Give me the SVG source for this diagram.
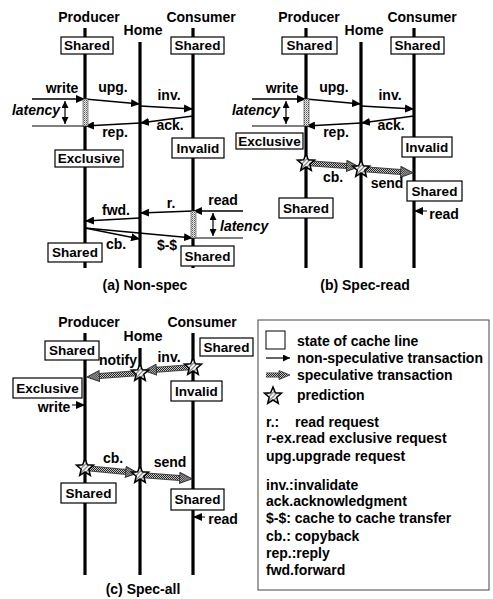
<svg xmlns="http://www.w3.org/2000/svg" xmlns:xlink="http://www.w3.org/1999/xlink" width="493" height="599" viewBox="0 0 493 599">
<style>
text{font-family:"Liberation Sans",Arial,sans-serif;font-weight:bold;font-size:14px;fill:#000}
.m{text-anchor:middle}
.it{font-style:italic}
.st{font-size:13.5px}
.life{stroke:#000;stroke-width:3.2;fill:none}
.box{fill:#fff;stroke:#000;stroke-width:1.2}
.ar{stroke:#000;stroke-width:1.5;fill:none;marker-end:url(#ah)}
.thin{stroke:#000;stroke-width:1;fill:none}
.lat{stroke:#000;stroke-width:1.2;fill:none;marker-start:url(#ah2);marker-end:url(#ah2)}
.hat{fill:url(#dots);stroke:#444;stroke-width:0.6}
.specO{stroke:#444;stroke-width:6;fill:none}
.specI{stroke:url(#chk);stroke-width:4;fill:none;marker-end:url(#sh)}
.star{fill:url(#sdiag);stroke:#000;stroke-width:1.5;stroke-linejoin:miter}
</style>
<defs>
<pattern id="chk" width="2" height="2" patternUnits="userSpaceOnUse"><rect width="2" height="2" fill="#c8c8c8"/><rect width="1" height="1" fill="#222"/><rect x="1" y="1" width="1" height="1" fill="#222"/></pattern>
<pattern id="dots" width="2" height="2" patternUnits="userSpaceOnUse"><rect width="2" height="2" fill="#eee"/><rect width="1" height="1" fill="#555"/><rect x="1" y="1" width="1" height="1" fill="#999"/></pattern>
<pattern id="sdiag" width="3" height="3" patternUnits="userSpaceOnUse" patternTransform="rotate(45)"><rect width="3" height="3" fill="#fff"/><rect width="1.2" height="3" fill="#777"/></pattern>
<marker id="ah" markerUnits="userSpaceOnUse" markerWidth="9" markerHeight="8" refX="9" refY="4" orient="auto"><path d="M0,0 L9,4 L0,8 z" fill="#000"/></marker>
<marker id="ah2" markerUnits="userSpaceOnUse" markerWidth="7" markerHeight="7" refX="7" refY="3.5" orient="auto-start-reverse"><path d="M0,0 L7,3.5 L0,7 z" fill="#000"/></marker>
<marker id="sh" markerUnits="userSpaceOnUse" markerWidth="14" markerHeight="12" refX="4" refY="6" orient="auto"><path d="M0.6,0.6 L13,6 L0.6,11.4 z" fill="url(#chk)" stroke="#333" stroke-width="1"/></marker>
<polygon id="star" points="0,-9 2.35,-3.24 8.56,-2.78 3.8,1.24 5.29,7.28 0,4 -5.29,7.28 -3.8,1.24 -8.56,-2.78 -2.35,-3.24"/>
</defs>

<!-- ===== Panel (a) ===== -->
<g id="a-lifelines">
<line class="life" x1="85" y1="28" x2="85" y2="268"/>
<line class="life" x1="140" y1="42" x2="140" y2="268"/>
<line class="life" x1="193" y1="28" x2="193" y2="268"/>
</g>
<g id="a-labels">
<text class="m" x="89" y="22">Producer</text>
<text class="m" x="143" y="35">Home</text>
<text class="m" x="201" y="22">Consumer</text>
<text class="m" x="145" y="290">(a) Non-spec</text>
</g>
<g id="a-connectors">
<line class="ar" x1="32" y1="99" x2="85" y2="99"/>
<line class="ar" x1="85" y1="99" x2="140" y2="104"/>
<line class="ar" x1="140" y1="106" x2="193" y2="109"/>
<line class="ar" x1="193" y1="116" x2="140" y2="123"/>
<line class="ar" x1="140" y1="123" x2="85" y2="126"/>
<line class="thin" x1="32" y1="126" x2="85" y2="126"/>
<line class="lat" x1="65" y1="101" x2="65" y2="124"/>
<rect class="hat" x="83" y="99" width="5" height="27"/>
<line class="ar" x1="243" y1="211" x2="193" y2="211"/>
<line class="ar" x1="193" y1="211" x2="140" y2="213"/>
<line class="ar" x1="140" y1="218" x2="85" y2="221"/>
<line class="ar" x1="85" y1="228" x2="140" y2="239"/>
<line class="ar" x1="85" y1="228" x2="193" y2="238"/>
<line class="thin" x1="193" y1="238" x2="243" y2="238"/>
<line class="lat" x1="213" y1="213" x2="213" y2="236"/>
<rect class="hat" x="191" y="211" width="5" height="27"/>
<text class="m" x="62" y="93">write</text>
<text class="m" x="113" y="92">upg.</text>
<text class="m" x="169" y="100">inv.</text>
<text class="m" x="170" y="130">ack.</text>
<text class="m" x="115" y="137">rep.</text>
<text class="m it" x="36" y="115">latency</text>
<text class="m" x="223" y="205">read</text>
<text class="m" x="171" y="208">r.</text>
<text class="m" x="116" y="215">fwd.</text>
<text class="m" x="116" y="249">cb.</text>
<text class="m" x="167" y="250">$-$</text>
<text class="it" x="220" y="231">latency</text>
</g>
<g id="a-prod-shared1"><rect class="box" x="61" y="37" width="52" height="17"/><text class="m st" x="87" y="50">Shared</text></g>
<g id="a-cons-shared1"><rect class="box" x="171" y="37" width="53" height="17"/><text class="m st" x="197.5" y="50">Shared</text></g>
<g id="a-prod-excl"><rect class="box" x="55" y="150" width="68" height="17"/><text class="m st" x="89" y="163">Exclusive</text></g>
<g id="a-cons-invalid"><rect class="box" x="172" y="138" width="52" height="20"/><text class="m st" x="198" y="153">Invalid</text></g>
<g id="a-prod-shared2"><rect class="box" x="48" y="243" width="54" height="19"/><text class="m st" x="75" y="257">Shared</text></g>
<g id="a-cons-shared2"><rect class="box" x="181" y="246" width="53" height="20"/><text class="m st" x="207.5" y="261">Shared</text></g>

<!-- ===== Panel (b) ===== -->
<g id="b-lifelines">
<line class="life" x1="306" y1="28" x2="306" y2="268"/>
<line class="life" x1="361" y1="42" x2="361" y2="268"/>
<line class="life" x1="414" y1="28" x2="414" y2="268"/>
</g>
<g id="b-labels">
<text class="m" x="309" y="22">Producer</text>
<text class="m" x="364" y="35">Home</text>
<text class="m" x="422" y="22">Consumer</text>
<text class="m" x="365" y="290">(b) Spec-read</text>
</g>
<g id="b-connectors">
<line class="ar" x1="252" y1="99" x2="306" y2="99"/>
<line class="ar" x1="306" y1="99" x2="361" y2="104"/>
<line class="ar" x1="361" y1="106" x2="414" y2="109"/>
<line class="ar" x1="414" y1="116" x2="361" y2="123"/>
<line class="ar" x1="361" y1="123" x2="306" y2="126"/>
<line class="thin" x1="252" y1="126" x2="306" y2="126"/>
<line class="lat" x1="286" y1="101" x2="286" y2="124"/>
<rect class="hat" x="304" y="99" width="5" height="27"/>
<line class="specO" x1="306" y1="163" x2="350" y2="166.2"/>
<line class="specI" x1="306" y1="163" x2="350" y2="166.2"/>
<line class="specO" x1="361" y1="169" x2="404" y2="172.2"/>
<line class="specI" x1="361" y1="169" x2="404" y2="172.2"/>
<line class="ar" x1="427" y1="211" x2="414" y2="211" style="stroke-width:1"/>
<text class="m" x="282" y="93">write</text>
<text class="m" x="334" y="92">upg.</text>
<text class="m" x="390" y="100">inv.</text>
<text class="m" x="391" y="130">ack.</text>
<text class="m" x="336" y="137">rep.</text>
<text class="m it" x="256" y="115">latency</text>
<text class="m" x="333" y="182">cb.</text>
<text class="m" x="387" y="188">send</text>
<text class="m" x="444" y="219">read</text>
</g>
<g id="b-prod-shared1"><rect class="box" x="282" y="37" width="55" height="17"/><text class="m st" x="309.5" y="50">Shared</text></g>
<g id="b-cons-shared1"><rect class="box" x="391" y="37" width="53" height="17"/><text class="m st" x="417.5" y="50">Shared</text></g>
<g id="b-prod-excl"><rect class="box" x="236" y="133" width="67" height="16"/><text class="m st" x="269.5" y="146">Exclusive</text></g>
<g id="b-cons-invalid"><rect class="box" x="402" y="137" width="50" height="20"/><text class="m st" x="427" y="152">Invalid</text></g>
<g id="b-star1"><use xlink:href="#star" class="star" transform="translate(306,163)"/></g>
<g id="b-star2"><use xlink:href="#star" class="star" transform="translate(361,169)"/></g>
<g id="b-cons-shared2"><rect class="box" x="407" y="181" width="55" height="20"/><text class="m st" x="434.5" y="196">Shared</text></g>
<g id="b-prod-shared2"><rect class="box" x="279" y="198" width="54" height="20"/><text class="m st" x="306" y="213">Shared</text></g>

<!-- ===== Panel (c) ===== -->
<g id="c-lifelines">
<line class="life" x1="85" y1="333" x2="85" y2="575"/>
<line class="life" x1="140" y1="348" x2="140" y2="575"/>
<line class="life" x1="193" y1="333" x2="193" y2="575"/>
</g>
<g id="c-labels">
<text class="m" x="89" y="327">Producer</text>
<text class="m" x="143" y="341">Home</text>
<text class="m" x="202" y="327">Consumer</text>
<text class="m" x="143" y="594">(c) Spec-all</text>
</g>
<g id="c-connectors">
<line class="specO" x1="193" y1="367" x2="153" y2="370"/>
<line class="specI" x1="193" y1="367" x2="153" y2="370"/>
<line class="specO" x1="140" y1="373" x2="96" y2="376.3"/>
<line class="specI" x1="140" y1="373" x2="96" y2="376.3"/>
<line class="ar" x1="72" y1="405" x2="85" y2="405" style="stroke-width:1"/>
<line class="specO" x1="85" y1="468" x2="129" y2="472.2"/>
<line class="specI" x1="85" y1="468" x2="129" y2="472.2"/>
<line class="specO" x1="140" y1="475" x2="183" y2="478.2"/>
<line class="specI" x1="140" y1="475" x2="183" y2="478.2"/>
<line class="ar" x1="205" y1="517" x2="193" y2="517" style="stroke-width:1"/>
<text class="m" x="118" y="365">notify</text>
<text class="m" x="169" y="362">inv.</text>
<text class="m" x="54" y="412">write</text>
<text class="m" x="113" y="463">cb.</text>
<text class="m" x="170" y="467">send</text>
<text class="m" x="223" y="524">read</text>
</g>
<g id="c-prod-shared1"><rect class="box" x="45" y="341" width="54" height="19"/><text class="m st" x="72" y="355">Shared</text></g>
<g id="c-cons-shared1"><rect class="box" x="200" y="338" width="53" height="18"/><text class="m st" x="226.5" y="352">Shared</text></g>
<g id="c-star1"><use xlink:href="#star" class="star" transform="translate(193,367)"/></g>
<g id="c-star2"><use xlink:href="#star" class="star" transform="translate(140,373)"/></g>
<g id="c-prod-excl"><rect class="box" x="13" y="378" width="69" height="20"/><text class="m st" x="47.5" y="393">Exclusive</text></g>
<g id="c-cons-invalid"><rect class="box" x="171" y="381" width="51" height="20"/><text class="m st" x="196.5" y="396">Invalid</text></g>
<g id="c-star3"><use xlink:href="#star" class="star" transform="translate(85,468)"/></g>
<g id="c-star4"><use xlink:href="#star" class="star" transform="translate(140,475)"/></g>
<g id="c-prod-shared2"><rect class="box" x="61" y="483" width="55" height="20"/><text class="m st" x="88.5" y="498">Shared</text></g>
<g id="c-cons-shared2"><rect class="box" x="171" y="489" width="53" height="21"/><text class="m st" x="197.5" y="504">Shared</text></g>

<!-- ===== Legend ===== -->
<g id="legend">
<rect x="258" y="320" width="231" height="270" fill="#fff" stroke="#444" stroke-width="1"/>
<rect x="266" y="331" width="19" height="18" fill="#fff" stroke="#000" stroke-width="1"/>
<text x="297" y="346">state of cache line</text>
<line x1="266" y1="358" x2="290" y2="358" stroke="#000" stroke-width="1.2" marker-end="url(#ah2)"/>
<text x="297" y="363">non-speculative transaction</text>
<line x1="266" y1="375" x2="281" y2="375" stroke="#444" stroke-width="5"/>
<line x1="266" y1="375" x2="281" y2="375" stroke="url(#chk)" stroke-width="3.5"/>
<path d="M279,370.5 L290,375 L279,379.5 z" fill="url(#chk)" stroke="#333" stroke-width="0.8"/>
<text x="297" y="380">speculative transaction</text>
<use xlink:href="#star" class="star" transform="translate(273,396)"/>
<text x="297" y="400">prediction</text>
<text x="266" y="427">r.:</text>
<text x="295" y="427">read request</text>
<text x="266" y="443">r-ex.read exclusive request</text>
<text x="266" y="461">upg.upgrade request</text>
<text x="266" y="490">inv.:invalidate</text>
<text x="266" y="506">ack.acknowledgment</text>
<text x="266" y="523">$-$: cache to cache transfer</text>
<text x="266" y="541">cb.: copyback</text>
<text x="266" y="558">rep.:reply</text>
<text x="266" y="575">fwd.forward</text>
</g>
</svg>
